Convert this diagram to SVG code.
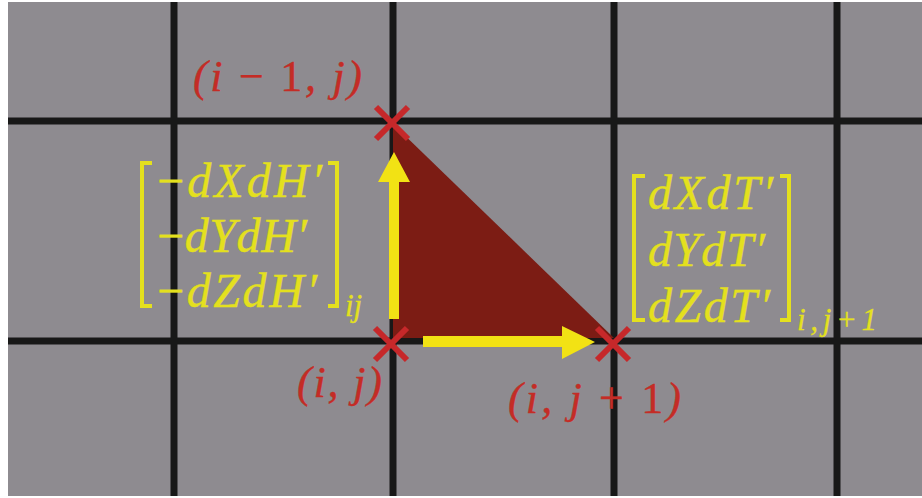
<svg xmlns="http://www.w3.org/2000/svg" width="922" height="498" viewBox="0 0 922 498">
<style>
.grid{stroke:#181818;stroke-width:7;fill:none}
.xmark{stroke:#c6282a;stroke-width:6;stroke-linecap:butt}
.red{fill:#c42c26;stroke:#c42c26;stroke-width:0.4;font-family:"Liberation Serif","DejaVu Serif",serif;font-style:italic;font-size:44px}
.yel{fill:#e4e01e;stroke:#e4e01e;stroke-width:0.4;font-family:"Liberation Serif","DejaVu Serif",serif;font-style:italic;font-size:48px}
.sub{font-size:31px;stroke-width:0.3}
.up{font-style:normal}
.br{stroke:#e4e01e;stroke-width:4;fill:none}
.arrow{fill:#f2e214}
</style>
<rect x="0" y="0" width="922" height="498" fill="#ffffff"/>
<rect x="8" y="2" width="914" height="494" fill="#8e8b90"/>
<g id="grid">
<line class="grid" x1="8" y1="121" x2="922" y2="121"/>
<line class="grid" x1="8" y1="341" x2="922" y2="341"/>
<line class="grid" x1="174" y1="2" x2="174" y2="496"/>
<line class="grid" x1="393" y1="2" x2="393" y2="496"/>
<line class="grid" x1="614" y1="2" x2="614" y2="496"/>
<line class="grid" x1="837" y1="2" x2="837" y2="496"/>
</g>
<g id="triangle">
<polygon points="393,124 393,338 614,338" fill="#7c1c14"/>
</g>
<g id="connectors">
<polygon class="arrow" points="389,319 389,182 378,182 394,152 410,182 399,182 399,319"/>
<polygon class="arrow" points="423,336 562,336 562,326 595,342 562,359 562,347 423,347"/>
</g>
<g id="node-im1j">
<line class="xmark" x1="376" y1="107" x2="408" y2="139"/>
<line class="xmark" x1="408" y1="107" x2="376" y2="139"/>
<text class="red" x="193" y="91" textLength="169">(i <tspan class="up">−</tspan> <tspan class="up">1</tspan>, j)</text>
</g>
<g id="node-ij">
<line class="xmark" x1="375" y1="328" x2="407" y2="360"/>
<line class="xmark" x1="407" y1="328" x2="375" y2="360"/>
<text class="red" x="297" y="397" textLength="85">(i, j)</text>
</g>
<g id="node-ijp1">
<line class="xmark" x1="597" y1="328" x2="629" y2="360"/>
<line class="xmark" x1="629" y1="328" x2="597" y2="360"/>
<text class="red" x="508" y="413" textLength="173">(i, j <tspan class="up">+ 1</tspan>)</text>
</g>
<g id="matrix-H">
<path class="br" d="M152,163 H142 V306 H152"/>
<path class="br" d="M328,163 H337 V306 H328"/>
<text class="yel" x="157" y="197" textLength="165"><tspan class="up">−</tspan>dXdH′</text>
<text class="yel" x="157" y="252" textLength="150"><tspan class="up">−</tspan>dYdH′</text>
<text class="yel" x="157" y="307" textLength="160"><tspan class="up">−</tspan>dZdH′</text>
<text class="yel sub" x="345" y="316">ij</text>
</g>
<g id="matrix-T">
<path class="br" d="M645,176 H634 V320 H645"/>
<path class="br" d="M780,176 H789 V320 H780"/>
<text class="yel" x="648" y="209" textLength="125">dXdT′</text>
<text class="yel" x="648" y="266" textLength="117">dYdT′</text>
<text class="yel" x="648" y="322" textLength="122">dZdT′</text>
<text class="yel sub" x="797" y="330" textLength="80">i,j+1</text>
</g>
</svg>
